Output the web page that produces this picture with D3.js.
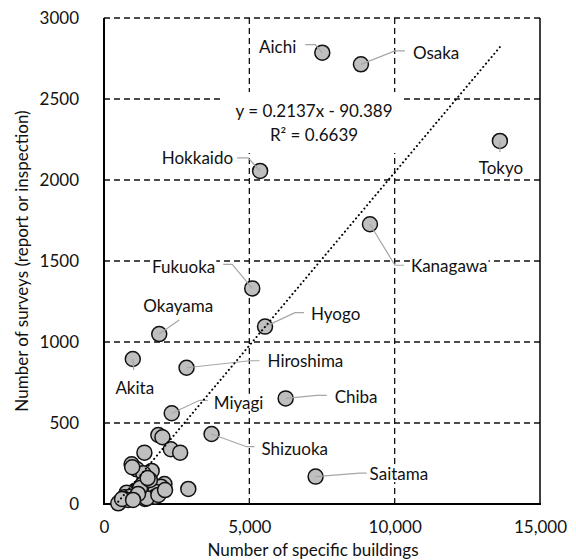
<!DOCTYPE html>
<html>
<head>
<meta charset="utf-8">
<script src="https://cdn.jsdelivr.net/npm/d3@7/dist/d3.min.js"></script>
<style>
  html, body { margin: 0; padding: 0; background: #fff; }
  svg { display: block; font-family: Lato, "Open Sans", sans-serif; }
</style>
</head>
<body>
<svg id="chart" width="576" height="560"></svg>
<script>
// Prefectures called out by name
const prefectures = ["Aichi", "Osaka", "Tokyo", "Hokkaido", "Kanagawa", "Fukuoka", "Hyogo",
  "Okayama", "Akita", "Hiroshima", "Miyagi", "Chiba", "Shizuoka", "Saitama"];
const namedBuildings = [7510, 8840, 13620, 5370, 9150, 5100, 5540, 1900, 990, 2840, 2330, 6250, 3700, 7280];
const namedSurveys   = [2786, 2714, 2241, 2056, 1727, 1331, 1095, 1049, 895, 841, 560, 652, 432, 169];

// Remaining prefectures (unlabelled)
const otherBuildings = [1870, 2010, 2300, 2620, 1390, 950, 1130, 1640, 1350, 1330, 2080, 1960, 2900,
  1070, 1760, 780, 700, 1410, 1760, 890, 550, 490, 970, 1470, 1870, 1240, 1580, 830, 1170, 2100, 620, 1000, 1500];
const otherSurveys   = [426, 412, 338, 317, 317, 245, 214, 204, 190, 123, 123, 107, 93,
  82, 76, 70, 41, 31, 45, 45, 14, 4, 227, 35, 56, 99, 148, 25, 62, 86, 31, 25, 160];

// Linear trend: y = 0.2137x - 90.389
const slope = 0.2137, intercept = -90.389, rSquared = "0.6639";

const xTicks = [0, 5000, 10000, 15000];
const yTicks = [0, 500, 1000, 1500, 2000, 2500, 3000];

// Label placement relative to each point (pixels): text offset, anchor, leader path
const labelLayout = {
  Aichi:     { dx: -26, dy: -6,  anchor: "end",    leader: [[-17, -8], [-7, -8], [0, 0]] },
  Osaka:     { dx: 52,  dy: -12, anchor: "start",  leader: [[0, 0], [34, -13.5], [44, -13.5]] },
  Tokyo:     { dx: 1,   dy: 27,  anchor: "middle", leader: [[0, 0], [0, 11]] },
  Hokkaido:  { dx: -27, dy: -13, anchor: "end",    leader: [[-23, -13], [-12, -13], [0, 0]] },
  Kanagawa:  { dx: 41,  dy: 41.5, anchor: "start", leader: [[0, 0], [25, 41], [34, 41]] },
  Fukuoka:   { dx: -37, dy: -22, anchor: "end",    leader: [[-29, -24], [-20, -24], [0, 0]] },
  Hyogo:     { dx: 46,  dy: -13, anchor: "start",  leader: [[0, 0], [30, -14], [39, -14]] },
  Okayama:   { dx: 19,  dy: -29, anchor: "middle", leader: [[0, 0], [20, -14]] },
  Akita:     { dx: 2,   dy: 28,  anchor: "middle", leader: [[0, 0], [1, 11]] },
  Hiroshima: { dx: 81,  dy: -7,  anchor: "start",  leader: [[0, 0], [63, -7], [73, -7]] },
  Miyagi:    { dx: 42,  dy: -11, anchor: "start",  leader: [[0, 0], [28, -13], [36, -13]] },
  Chiba:     { dx: 49,  dy: -2,  anchor: "start",  leader: [[0, 0], [31, -3], [41, -3]] },
  Shizuoka:  { dx: 50,  dy: 14,  anchor: "start",  leader: [[0, 0], [35, 12.7], [43, 12.7]] },
  Saitama:   { dx: 54,  dy: -3,  anchor: "start",  leader: [[0, 0], [44, -3.4], [51, -3.4]] }
};

const svg = d3.select("#chart");
const plot = { left: 104, right: 540, top: 18, bottom: 504 };

const x = d3.scaleLinear().domain([0, 15000]).range([plot.left, plot.right]);
const y = d3.scaleLinear().domain([0, 3000]).range([plot.bottom, plot.top]);

const textColor = "#111";
const fontSize = 17;

// Dashed gridlines
const grid = svg.append("g");
grid.selectAll("line.h").data(yTicks.filter(d => d > 0)).join("line")
  .attr("x1", plot.left).attr("x2", plot.right)
  .attr("y1", d => y(d)).attr("y2", d => y(d))
  .attr("stroke", "#111").attr("stroke-width", 1.3).attr("stroke-dasharray", "6,4");
grid.selectAll("line.v").data(xTicks.filter(d => d > 0 && d < 15000)).join("line")
  .attr("x1", d => x(d)).attr("x2", d => x(d))
  .attr("y1", plot.top).attr("y2", plot.bottom)
  .attr("stroke", "#111").attr("stroke-width", 1.3).attr("stroke-dasharray", "6,4");

// Axis lines and right border
svg.append("line").attr("x1", plot.left).attr("x2", plot.left)
  .attr("y1", plot.top).attr("y2", plot.bottom).attr("stroke", "#000").attr("stroke-width", 2);
svg.append("line").attr("x1", plot.left - 1).attr("x2", plot.right + 1)
  .attr("y1", plot.bottom).attr("y2", plot.bottom).attr("stroke", "#000").attr("stroke-width", 2);
svg.append("line").attr("x1", plot.right).attr("x2", plot.right)
  .attr("y1", plot.top).attr("y2", plot.bottom).attr("stroke", "#000").attr("stroke-width", 1.5);

// Axes (labels only)
const xAxis = svg.append("g").attr("transform", `translate(0,${plot.bottom})`)
  .call(d3.axisBottom(x).tickValues(xTicks).tickSize(0).tickPadding(23).tickFormat(d3.format(",")));
const yAxis = svg.append("g").attr("transform", `translate(${plot.left},0)`)
  .call(d3.axisLeft(y).tickValues(yTicks).tickSize(0).tickPadding(25).tickFormat(d3.format("d")));
[xAxis, yAxis].forEach(a => {
  a.select(".domain").remove();
  a.selectAll("text").attr("font-family", "Lato, sans-serif").attr("font-size", fontSize).attr("fill", textColor);
});
xAxis.selectAll("text").attr("dy", "0.35em");

// Axis titles
svg.append("text").attr("x", 313).attr("y", 549).attr("dominant-baseline", "central")
  .attr("text-anchor", "middle").attr("font-size", fontSize).attr("fill", textColor)
  .text("Number of specific buildings");
svg.append("text").attr("transform", `translate(21,${(plot.top + plot.bottom) / 2}) rotate(-90)`)
  .attr("text-anchor", "middle").attr("dominant-baseline", "central")
  .attr("font-size", fontSize).attr("fill", textColor)
  .text("Number of surveys (report or inspection)");

// Points
const otherPoints = otherBuildings.map((b, i) => ({ b, s: otherSurveys[i] }));
const namedPoints = prefectures.map((name, i) => ({ name, b: namedBuildings[i], s: namedSurveys[i] }));
const allPoints = otherPoints.concat(namedPoints);

svg.append("g").selectAll("circle").data(allPoints).join("circle")
  .attr("cx", d => x(d.b)).attr("cy", d => y(d.s)).attr("r", 7.5)
  .attr("fill", "#bfbfbf").attr("stroke", "#111").attr("stroke-width", 1.5);

// Leader lines
const leaderLine = d3.line();
svg.append("g").selectAll("path").data(namedPoints).join("path")
  .attr("d", d => {
    const L = labelLayout[d.name], px = x(d.b), py = y(d.s);
    return leaderLine(L.leader.map(([ox, oy]) => [px + ox, py + oy]));
  })
  .attr("fill", "none").attr("stroke", "#a6a6a6").attr("stroke-width", 1.2);

// Trendline over the observed range
const xs = allPoints.map(d => d.b);
const xMin = d3.min(xs), xMax = d3.max(xs);
svg.append("line")
  .attr("x1", x(xMin)).attr("y1", y(slope * xMin + intercept))
  .attr("x2", x(xMax)).attr("y2", y(slope * xMax + intercept))
  .attr("stroke", "#000").attr("stroke-width", 2)
  .attr("stroke-dasharray", "0.1,4.2").attr("stroke-linecap", "round");

// Helper: text with a white backing box
function boxedText(g, tx, ty, str, anchor, pad) {
  const rect = g.append("rect").attr("fill", "#fff");
  const t = g.append("text").attr("x", tx).attr("y", ty)
    .attr("text-anchor", anchor).attr("dominant-baseline", "central")
    .attr("font-size", fontSize).attr("fill", textColor).text(str);
  const bb = t.node().getBBox();
  rect.attr("x", bb.x - pad[0]).attr("y", bb.y - pad[1])
    .attr("width", bb.width + 2 * pad[0]).attr("height", bb.height + 2 * pad[1]);
  return t;
}

// Prefecture labels
const labels = svg.append("g");
namedPoints.forEach(d => {
  const L = labelLayout[d.name];
  boxedText(labels.append("g"), x(d.b) + L.dx, y(d.s) + L.dy, d.name, L.anchor, [1, -2]);
});

// Trend equation label
const eq = svg.append("g");
const eqRect = eq.append("rect").attr("fill", "#fff");
const eqCx = 314;
const sign = intercept < 0 ? "-" : "+";
const eqText = eq.append("text").attr("text-anchor", "middle").attr("font-size", fontSize).attr("fill", textColor);
eqText.append("tspan").attr("x", eqCx).attr("y", 110).attr("dominant-baseline", "central")
  .text(`y = ${slope}x ${sign} ${Math.abs(intercept)}`);
eqText.append("tspan").attr("x", eqCx).attr("y", 134).attr("dominant-baseline", "central")
  .text(`R² = ${rSquared}`);
eqRect.attr("x", 223).attr("y", 92).attr("width", 180).attr("height", 61);
</script>
</body>
</html>
